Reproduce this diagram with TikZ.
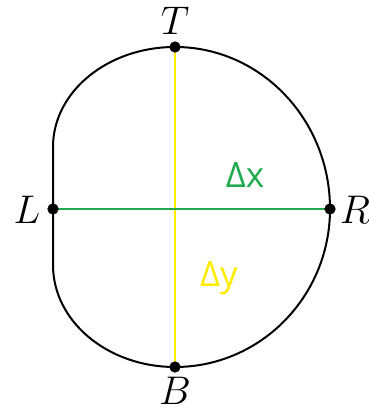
\documentclass[tikz,border=0pt]{standalone}
\usepackage{amsmath, amssymb}
\usepackage{fontspec}
\usepackage{xcolor}
\newfontfamily\deltafont{Open Sans}
\definecolor{dxgreen}{RGB}{34,170,80}
\definecolor{dyyellow}{RGB}{255,236,0}

\begin{document}
\begin{tikzpicture}[
    x=0.3pt, y=0.3pt,
    dot/.style={circle, fill=#1, inner sep=1.2pt},
    dot/.default=black,
    line width=0.6pt,
    pointname/.style={inner sep=0pt, font=\fontsize{11.5}{14}\selectfont}
]
    \useasboundingbox (0,0) rectangle (368,408);

    % Coordinates
    \coordinate (top)    at (175, 361);
    \coordinate (bottom) at (175, 41);
    \coordinate (left)   at (53, 199);
    \coordinate (right)  at (330, 199);

    % Outline
    \draw[black] (top) arc[start angle=90, end angle=180, x radius=122, y radius=100]
        -- ++(0, -118)
        arc[start angle=180, end angle=270, x radius=122, y radius=102]
        arc[start angle=270, end angle=360, x radius=155, y radius=158]
        arc[start angle=0, end angle=90, x radius=155, y radius=162] -- cycle;

    % Widths
    \draw[dyyellow] (top) -- (bottom);
    \draw[dxgreen] (left) -- (right);

    % Points
    \node[dot] (T) at (top) {};
    \node[dot] (B) at (bottom) {};
    \node[dot] (L) at (left) {};
    \node[dot] (R) at (right) {};

    % Point names
    \node[pointname] (Tname) at (175, 387) {$T$};
    \node[pointname] (Bname) at (175, 17) {$B$};
    \node[pointname] (Lname) at (27, 198) {$L$};
    \node[pointname] (Rname) at (355, 198) {$R$};

    % Labels
    \node[text=dxgreen, font=\deltafont\fontsize{10.5}{12}\selectfont] (dx) at (245, 233) {Δx};
    \node[text=dyyellow, font=\deltafont\fontsize{10.5}{12}\selectfont] (dy) at (219, 130) {Δy};

\end{tikzpicture}
\end{document}
